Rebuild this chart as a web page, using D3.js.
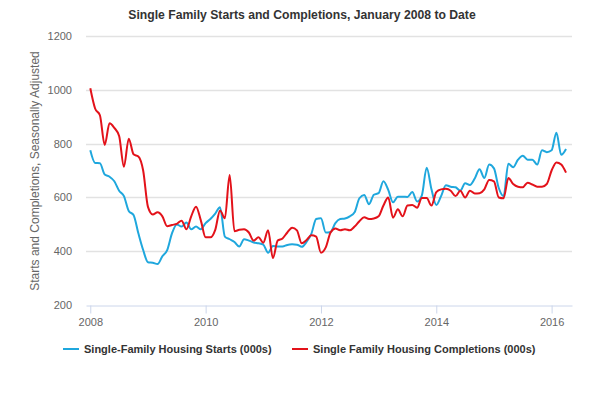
<!DOCTYPE html>
<html>
<head>
<meta charset="utf-8">
<script src="https://cdn.jsdelivr.net/npm/d3@7"></script>
<style>
  body { margin: 0; background: #fff; }
  svg { display: block; font-family: "Liberation Sans", Arial, sans-serif; }
</style>
</head>
<body>
<svg id="chart" width="600" height="395"></svg>
<script>
//*************************************************
// Data: monthly values, January 2008 onward
//*************************************************
var startYear = 2008;
var seriesNames = ['Single-Family Housing Starts (000s)', 'Single Family Housing Completions (000s)'];
var seriesColors = ['#1fa7dd', '#e3121a'];

var starts = [
    775, 728, 727, 685, 677, 660, 625, 605, 550, 535, 467, 405,
    360, 358, 353, 382, 405, 467, 500, 492, 507, 482, 492, 482,
    505, 520, 540, 564, 455, 445, 435, 418, 445, 440, 433, 430,
    425, 395, 420, 418, 418, 424, 426, 425, 417, 435, 465, 520,
    523, 470, 472, 505, 520, 522, 530, 545, 597, 609, 575, 610,
    616, 660, 628, 582, 603, 603, 602, 620, 585, 608, 710, 630,
    572, 605, 645, 640, 638, 625, 653, 646, 670, 705, 672, 722,
    708, 635, 605, 725, 712, 740, 755, 740, 740, 722, 775, 768,
    775, 840, 758, 780
];
var completions = [
    1005, 930, 905, 795, 875, 858, 828, 714, 818, 760, 752, 700,
    565, 537, 545, 530, 493, 498, 502, 514, 482, 530, 566, 515,
    452, 452, 480, 552, 523, 683, 475, 480, 482, 470, 440, 452,
    432, 478, 375, 440, 448, 470, 488, 478, 430, 442, 460, 455,
    395, 415, 470, 485, 478, 482, 478, 492, 512, 527, 520, 522,
    530, 570, 600, 525, 556, 530, 570, 572, 562, 598, 598, 570,
    620, 630, 632, 625, 605, 625, 600, 625, 615, 616, 630, 665,
    660, 600, 597, 672, 650, 640, 638, 655, 648, 640, 640, 650,
    700, 730, 722, 692
];
var yTicks = [200, 400, 600, 800, 1000, 1200];
var xTicks = [2008, 2010, 2012, 2014, 2016];

//*************************************************
// Layout
//*************************************************
var svg = d3.select('#chart');
var plot = { left: 86, right: 572, top: 35.7, bottom: 305.3 };

var x = d3.scaleLinear()
    .domain([2007.9255, 2016.3535])
    .range([plot.left, plot.right]);
var y = d3.scaleLinear()
    .domain([200, 1200])
    .range([plot.bottom, plot.top]);

// title
svg.append('text')
    .attr('x', 302).attr('y', 19)
    .attr('text-anchor', 'middle')
    .style('font-size', '12.2px').style('font-weight', 'bold').style('fill', '#333')
    .text('Single Family Starts and Completions, January 2008 to Date');

// grid lines
svg.append('g').selectAll('line').data(yTicks.filter(function (d){ return d > 200; }))
    .enter().append('line')
    .attr('x1', plot.left).attr('x2', plot.right)
    .attr('y1', function (d){ return Math.round(y(d)) + 0.5; })
    .attr('y2', function (d){ return Math.round(y(d)) + 0.5; })
    .style('stroke', '#e2e2e2').style('stroke-width', 1.5);

// y tick labels
svg.append('g').selectAll('text').data(yTicks)
    .enter().append('text')
    .attr('x', 72).attr('y', function (d){ return y(d) + 4; })
    .attr('text-anchor', 'end')
    .style('font-size', '11px').style('fill', '#666')
    .text(function (d){ return d; });

// y axis title
svg.append('text')
    .attr('transform', 'translate(39,171) rotate(-90)')
    .attr('text-anchor', 'middle')
    .style('font-size', '12px').style('fill', '#666')
    .text('Starts and Completions, Seasonally Adjusted');

// x axis
var xAxis = d3.axisBottom(x)
    .tickValues(xTicks)
    .tickFormat(d3.format('d'))
    .tickSize(8)
    .tickSizeOuter(0);
var gx = svg.append('g')
    .attr('transform', 'translate(0,' + (Math.round(plot.bottom) + 0.5) + ')')
    .call(xAxis);
gx.select('.domain').style('stroke', '#ccd6eb');
gx.selectAll('.tick line').style('stroke', '#ccd6eb');
gx.selectAll('.tick text')
    .attr('y', 13)
    .style('font-size', '11px').style('fill', '#666')
    .style('font-family', '"Liberation Sans", Arial, sans-serif');

// lines
var line = d3.line()
    .x(function (d, i){ return x(startYear + i / 12); })
    .y(function (d){ return y(d); })
    .curve(d3.curveMonotoneX);

[starts, completions].forEach(function (series, k){
    svg.append('path')
        .datum(series)
        .attr('d', line)
        .style('fill', 'none')
        .style('stroke', seriesColors[k])
        .style('stroke-width', 2)
        .style('stroke-linejoin', 'round');
});

// legend
var legendX = [63, 292];
var legend = svg.append('g').selectAll('g').data(seriesNames)
    .enter().append('g')
    .attr('transform', function (d, i){ return 'translate(' + legendX[i] + ',349)'; });
legend.append('line')
    .attr('x1', 0).attr('x2', 16)
    .style('stroke', function (d, i){ return seriesColors[i]; })
    .style('stroke-width', 2);
legend.append('text')
    .attr('x', 21).attr('y', 4)
    .style('font-size', '11px').style('font-weight', 'bold').style('fill', '#333')
    .text(function (d){ return d; });
</script>
</body>
</html>
